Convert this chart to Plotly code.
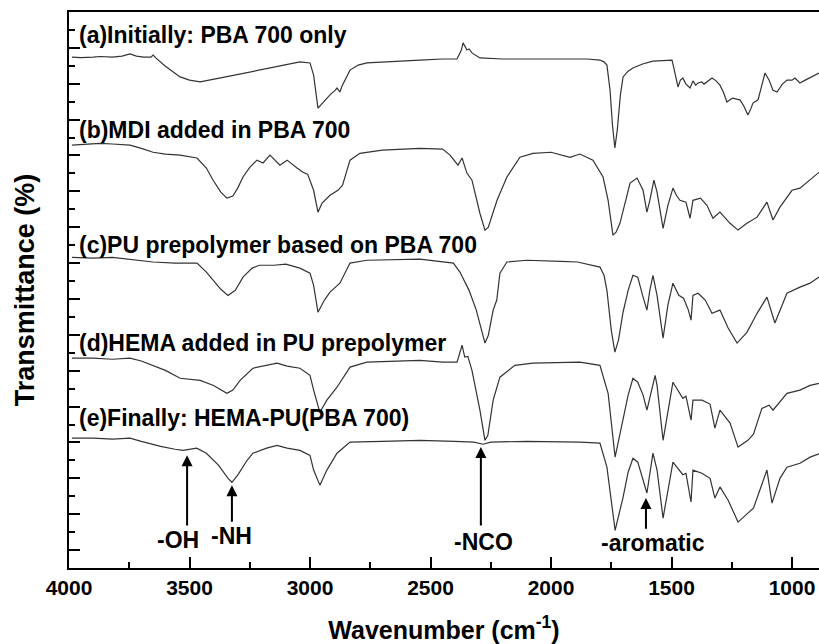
import plotly.graph_objects as go

# ---------------- data (wavenumber cm^-1, offset transmittance) ----------------
wn_a = [3988, 3950, 3900, 3871, 3820, 3780, 3747, 3720, 3690, 3660, 3651, 3640, 3600, 3539, 3500, 3456,
        3350, 3250, 3150, 3042, 3000, 2985, 2967, 2940, 2917, 2895, 2888, 2876, 2867, 2834, 2800, 2764,
        2650, 2544, 2450, 2390, 2372, 2365, 2355, 2349, 2340, 2328, 2295, 2200, 2000, 1850, 1797, 1780,
        1768, 1755, 1745, 1735, 1725, 1712, 1701, 1680, 1660, 1620, 1577, 1530, 1498, 1492, 1486, 1473,
        1463, 1453, 1440, 1423, 1411, 1400, 1390, 1374, 1365, 1350, 1332, 1315, 1299, 1285, 1270, 1255,
        1245, 1230, 1216, 1200, 1183, 1170, 1162, 1141, 1125, 1112, 1095, 1079, 1062, 1040, 1021, 1000,
        988, 967, 945, 926, 905, 888]
t_a = [137.4, 137.3, 137.4, 137.6, 137.4, 137.7, 138.3, 137.7, 137.4, 137.4, 138.0, 137.2, 134.9, 131.9, 131.0, 130.5,
       131.9, 133.3, 134.7, 136.1, 135.8, 132.4, 123.2, 125.2, 126.9, 128.2, 128.8, 127.7, 129.4, 133.8, 135.2, 135.8,
       136.3, 136.6, 136.9, 136.9, 139.4, 141.4, 140.2, 139.4, 139.7, 138.6, 137.2, 136.9, 136.9, 136.9, 136.6, 136.1,
       135.2, 128.2, 118.5, 112.1, 117.1, 126.9, 131.9, 133.5, 134.4, 135.5, 136.3, 136.6, 136.6, 134.9, 133.3, 129.1,
       131.0, 131.6, 129.9, 128.8, 130.8, 129.6, 130.2, 130.5, 129.9, 130.8, 131.6, 130.8, 129.6, 127.7, 124.9, 125.7,
       126.0, 125.7, 125.5, 123.8, 121.3, 123.2, 124.6, 125.5, 129.9, 133.0, 131.0, 128.2, 127.7, 129.9, 131.0, 131.0,
       131.6, 130.2, 131.0, 131.6, 132.4, 133.0]

wn_b = [3988, 3930, 3871, 3820, 3747, 3700, 3651, 3600, 3539, 3469, 3430, 3402, 3370, 3345, 3320, 3300,
        3278, 3250, 3220, 3195, 3166, 3125, 3095, 3054, 3029, 3010, 2985, 2967, 2950, 2917, 2884, 2865,
        2834, 2793, 2700, 2544, 2450, 2419, 2386, 2369, 2349, 2328, 2295, 2274, 2260, 2224, 2183, 2129,
        2075, 2000, 1921, 1880, 1826, 1784, 1763, 1743, 1730, 1714, 1690, 1672, 1643, 1618, 1602, 1590,
        1573, 1560, 1535, 1515, 1494, 1480, 1465, 1440, 1423, 1411, 1380, 1353, 1328, 1299, 1257, 1224,
        1187, 1145, 1104, 1079, 1050, 1029, 1000, 967, 925, 888]
t_b = [112.9, 113.2, 113.4, 113.2, 112.9, 112.0, 110.9, 110.4, 110.1, 109.3, 106.5, 103.1, 99.8, 98.1, 98.7, 100.9,
       104.0, 106.7, 108.7, 107.9, 110.1, 107.3, 108.7, 106.5, 105.3, 104.8, 100.3, 94.2, 96.7, 98.9, 100.3, 101.7,
       108.7, 110.6, 111.5, 112.0, 111.8, 110.1, 107.3, 109.3, 105.1, 103.1, 93.9, 89.2, 90.0, 97.5, 104.0, 109.5,
       110.6, 110.9, 109.5, 110.4, 108.7, 104.0, 97.5, 87.8, 88.6, 91.1, 97.5, 102.3, 103.7, 100.3, 94.2, 97.5,
       103.1, 99.8, 89.7, 96.1, 100.9, 98.9, 97.5, 97.0, 92.5, 97.5, 98.1, 96.1, 92.5, 94.2, 91.1, 89.2,
       91.1, 92.8, 97.0, 92.0, 95.6, 97.5, 100.3, 100.9, 103.1, 105.3]

wn_c = [3988, 3900, 3820, 3747, 3651, 3560, 3469, 3430, 3402, 3370, 3340, 3310, 3278, 3240, 3210, 3150,
        3100, 3042, 3000, 2985, 2967, 2940, 2917, 2876, 2834, 2764, 2544, 2450, 2405, 2378, 2360, 2340,
        2310, 2290, 2274, 2260, 2240, 2225, 2212, 2183, 2100, 1960, 1890, 1797, 1780, 1768, 1750, 1735,
        1720, 1701, 1680, 1660, 1640, 1620, 1602, 1590, 1577, 1560, 1535, 1515, 1494, 1470, 1450, 1430,
        1419, 1411, 1390, 1360, 1332, 1299, 1265, 1228, 1187, 1145, 1104, 1071, 1040, 1021, 967, 925, 888]
t_c = [81.6, 81.4, 81.6, 81.1, 80.3, 80.0, 80.0, 77.5, 75.2, 72.7, 71.0, 72.4, 76.1, 78.6, 79.4, 79.4,
       79.7, 78.6, 77.2, 73.8, 66.3, 69.7, 71.9, 74.4, 80.0, 80.8, 81.1, 80.3, 80.0, 77.5, 75.2, 72.4,
       66.9, 61.3, 57.7, 59.9, 66.9, 69.7, 77.2, 80.3, 80.8, 80.5, 80.3, 78.9, 76.6, 72.4, 61.3, 55.2,
       58.5, 66.3, 72.4, 76.6, 76.1, 71.0, 66.9, 72.4, 76.6, 71.0, 59.1, 68.3, 74.4, 71.0, 70.2, 66.9,
       64.1, 71.0, 71.6, 69.7, 66.0, 66.9, 61.9, 57.7, 60.7, 66.0, 70.5, 63.3, 68.8, 71.6, 73.3, 74.4, 76.1]

wn_d = [3988, 3900, 3820, 3747, 3700, 3651, 3600, 3539, 3456, 3400, 3345, 3320, 3290, 3237, 3180, 3137,
        3095, 3042, 3000, 2985, 2959, 2930, 2888, 2834, 2764, 2544, 2450, 2390, 2369, 2358, 2345, 2328,
        2295, 2274, 2262, 2240, 2212, 2150, 2075, 1880, 1797, 1763, 1734, 1701, 1680, 1660, 1640, 1618,
        1602, 1568, 1560, 1535, 1494, 1453, 1440, 1419, 1411, 1374, 1340, 1320, 1299, 1257, 1224, 1183,
        1160, 1125, 1095, 1079, 1050, 1021, 967, 925, 888]
t_d = [53.5, 53.5, 53.2, 53.5, 52.7, 51.5, 50.1, 47.9, 47.3, 45.9, 43.7, 44.6, 47.3, 50.7, 51.5, 52.1,
       51.3, 50.7, 48.7, 44.6, 38.4, 41.8, 45.4, 51.0, 52.4, 52.9, 52.4, 52.4, 57.1, 53.8, 54.0, 50.1,
       39.0, 30.6, 32.0, 41.8, 48.2, 51.5, 52.1, 52.4, 51.5, 43.7, 25.9, 36.2, 43.2, 47.9, 46.8, 43.2,
       39.0, 48.7, 45.9, 30.6, 46.8, 42.3, 42.9, 36.2, 41.8, 41.8, 40.7, 34.0, 39.0, 35.4, 28.7, 30.6,
       32.3, 39.5, 40.4, 39.0, 41.2, 43.7, 44.6, 45.9, 46.5]

wn_e = [3988, 3900, 3820, 3747, 3700, 3620, 3560, 3527, 3470, 3430, 3380, 3340, 3324, 3300, 3260, 3237,
        3180, 3137, 3095, 3042, 3000, 2985, 2959, 2930, 2888, 2834, 2700, 2544, 2400, 2320, 2282, 2250,
        2100, 1880, 1797, 1768, 1734, 1701, 1680, 1660, 1640, 1618, 1602, 1577, 1560, 1535, 1494, 1453,
        1440, 1419, 1411, 1374, 1340, 1320, 1299, 1265, 1224, 1183, 1160, 1104, 1083, 1050, 1021, 967, 925, 888]
t_e = [31.2, 31.2, 30.9, 31.2, 30.3, 28.9, 28.1, 27.8, 28.4, 27.0, 23.7, 20.0, 18.9, 20.9, 25.1, 27.0,
       28.4, 29.2, 28.4, 27.8, 26.4, 22.3, 18.1, 22.3, 27.0, 30.1, 30.3, 30.6, 30.3, 30.1, 29.5, 30.1,
       30.3, 30.1, 29.8, 23.1, 5.5, 14.7, 21.7, 25.6, 24.5, 19.5, 15.9, 27.0, 22.3, 8.9, 24.5, 21.0,
       21.4, 13.4, 22.3, 21.4, 20.0, 14.5, 17.6, 13.9, 7.8, 10.3, 11.7, 22.3, 13.1, 20.0, 23.1, 24.2, 25.9, 26.8]

labels = ["(a)Initially: PBA 700 only", "(b)MDI added in PBA 700", "(c)PU prepolymer based on PBA 700",
          "(d)HEMA added in PU prepolymer", "(e)Finally: HEMA-PU(PBA 700)"]
label_y = [143.5, 117.1, 85.0, 57.7, 36.8]

band_names = ["-OH", "-NH", "-NCO", "-aromatic"]
band_wn = [3510, 3324, 2291, 1606]
band_head = [26.4, 18.1, 28.7, 14.5]
band_tail = [6.4, 7.5, 6.4, 5.5]
band_text_wn = [3548, 3324, 2282, 1577]
band_text_y = [2.8, 3.9, 2.2, 1.9]

x_ticks = [4000, 3500, 3000, 2500, 2000, 1500, 1000]

# ---------------- figure ----------------
FONT = "Liberation Sans, Arial, sans-serif"
fig = go.Figure()
for wn, t in [(wn_a, t_a), (wn_b, t_b), (wn_c, t_c), (wn_d, t_d), (wn_e, t_e)]:
    fig.add_trace(go.Scatter(x=wn, y=t, mode="lines",
                             line=dict(color="#333333", width=1.2), showlegend=False))

for txt, yv in zip(labels, label_y):
    fig.add_annotation(x=3968, y=yv, text=txt, showarrow=False, xanchor="left", yanchor="middle",
                       font=dict(family=FONT, size=23, color="black", weight="bold"))

for name, xw, yh, yt, xt, ytx in zip(band_names, band_wn, band_head, band_tail, band_text_wn, band_text_y):
    fig.add_annotation(x=xw, y=yh, ax=xw, ay=yt, axref="x", ayref="y", xref="x", yref="y",
                       text="", showarrow=True, arrowhead=2, arrowsize=1.1, arrowwidth=2,
                       arrowcolor="black", standoff=0)
    fig.add_annotation(x=xt, y=ytx, text=name, showarrow=False, xanchor="center", yanchor="middle",
                       font=dict(family=FONT, size=23, color="black", weight="bold"))

fig.update_layout(
    width=819, height=644,
    margin=dict(l=69, r=0, t=12, b=76),
    paper_bgcolor="white", plot_bgcolor="white",
    font=dict(family=FONT, color="black"),
    hovermode=False,
)
fig.update_xaxes(
    range=[4000, 888], autorange=False, automargin=False,
    tickvals=x_ticks, ticktext=[str(v) for v in x_ticks],
    ticks="inside", ticklen=11, tickwidth=2, tickcolor="black",
    minor=dict(dtick=250, tick0=0, ticks="inside", ticklen=6, tickwidth=2, tickcolor="black"),
    showline=True, linewidth=2, linecolor="black", mirror=True,
    showgrid=False, zeroline=False,
    tickfont=dict(family=FONT, size=21, color="black", weight="bold"),
    title=dict(text="Wavenumber (cm<sup>-1</sup>)", standoff=24,
               font=dict(family=FONT, size=25, color="black", weight="bold")),
)
fig.update_yaxes(
    range=[-5, 150], autorange=False, automargin=False,
    tick0=0, dtick=10, showticklabels=False,
    ticks="inside", ticklen=11, tickwidth=2, tickcolor="black",
    minor=dict(dtick=5, tick0=0, ticks="inside", ticklen=6, tickwidth=2, tickcolor="black"),
    showline=True, linewidth=2, linecolor="black", mirror=False,
    showgrid=False, zeroline=False,
    title=dict(text="Transmittance (%)", standoff=25,
               font=dict(family=FONT, size=27, color="black", weight="bold")),
)
fig.write_html("out.html", config={"displayModeBar": False},
               post_script="document.body.style.margin='0';document.body.style.overflow='hidden';")
